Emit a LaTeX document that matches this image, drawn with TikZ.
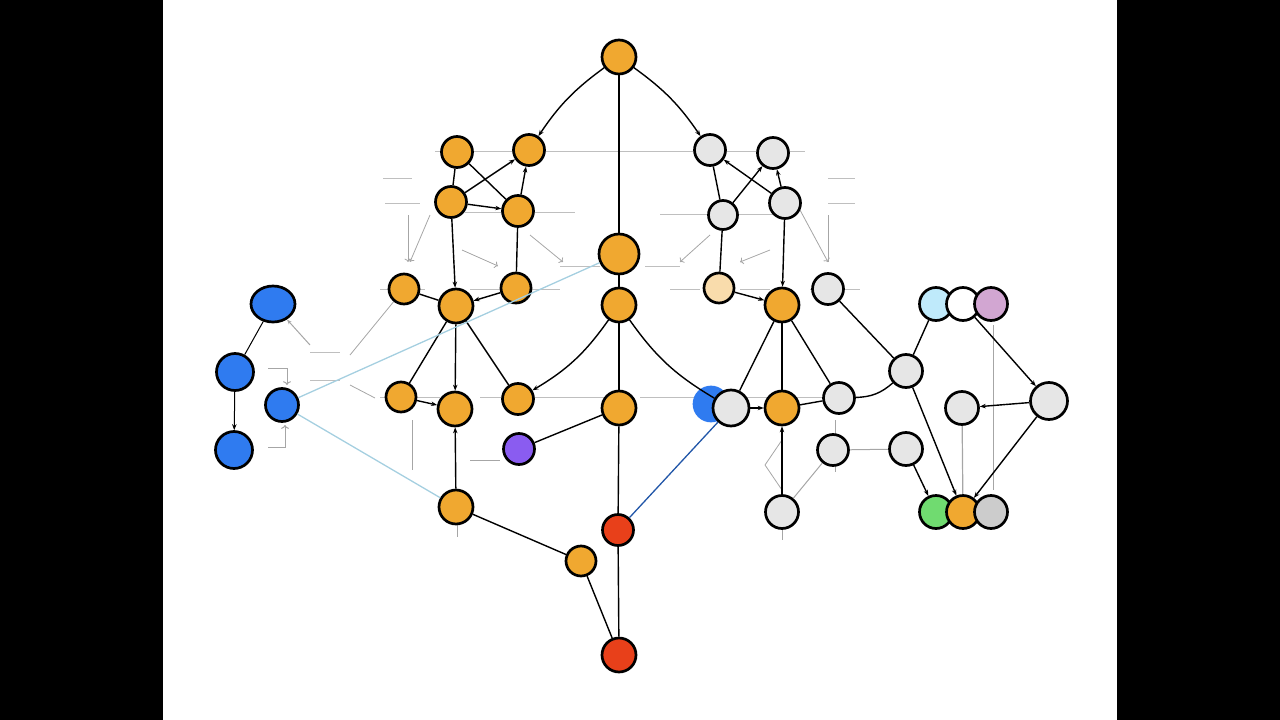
\documentclass[tikz,border=0pt]{standalone}
\usetikzlibrary{arrows.meta,shapes.geometric}
\definecolor{org}{HTML}{F0A830}
\definecolor{gry}{HTML}{E6E6E6}
\definecolor{blu}{HTML}{2F7BF0}
\definecolor{rd}{HTML}{E8401A}
\definecolor{pur}{HTML}{8A5CF0}
\begin{document}
\begin{tikzpicture}[x=1pt,y=-1pt,
 nd/.style={circle,draw=black,line width=2.7pt,inner sep=0pt,minimum size=#1},
 nd/.default=34pt,
 e/.style={line width=1.4pt,black},
 a/.style={e,-{Stealth[length=6pt]}},
 fa/.style={gray!70,line width=0.8pt},
 fd/.style={gray!50,line width=1pt},
 tl/.style={cyan!40!teal!40,line width=1.3pt}]
\useasboundingbox (0,0) rectangle (1280,720);
\fill[black] (0,0) rectangle (163,720);
\fill[black] (1117,0) rectangle (1280,720);
% faint dashes
\foreach \xa/\xb/\yy in {435/805/151, 383/412/178, 385/420/203, 828/855/178, 828/855/203, 465/575/212, 660/785/214, 560/600/266, 645/680/266, 380/425/289, 470/560/289, 670/700/289, 740/770/289, 810/860/289, 310/340/352, 310/340/380, 380/440/397, 480/620/397, 640/860/397}
 \draw[fd] (\xa,\yy) -- (\xb,\yy);
\draw[fa,->] (408,215) -- (408,262);
\draw[fa,->] (430,215) -- (410,262);
\draw[fa,->] (462,250) -- (498,266);
\draw[fa,->] (530,235) -- (563,262);
\draw[fa,->] (710,235) -- (680,262);
\draw[fa,->] (770,250) -- (740,262);
\draw[fa,->] (800,210) -- (828,262);
\draw[fa] (828,215) -- (828,262);
\draw[fa] (350,355) -- (395,300);
\draw[fa] (350,385) -- (375,398);
\draw[fa] (412,420) -- (412,470);
\draw[fa] (470,460) -- (500,460);
\draw[fa] (835,420) -- (835,472);
\draw[fa] (993,325) -- (993,490);
\draw[fa] (765,465) -- (782,440);
\draw[fa] (765,465) -- (782,490);
\draw[fa] (457,525) -- (457,537);
\draw[fa] (782,530) -- (782,540);

% orange nodes
\node[nd,fill=org] (T) at (619,57) {};
\node[nd=31pt,fill=org] (A1) at (457,152) {};
\node[nd=31pt,fill=org] (A2) at (529,150) {};
\node[nd=31pt,fill=org] (A3) at (451,202) {};
\node[nd=31pt,fill=org] (A4) at (518,211) {};
\node[nd=40pt,fill=org] (C1) at (619,254) {};
\node[nd=30pt,fill=org] (L1) at (404,289) {};
\node[nd,fill=org] (M1) at (456,306) {};
\node[nd=30pt,fill=org] (L2) at (516,288) {};
\node[nd,fill=org] (C2) at (619,305) {};
\node[nd=30pt,fill=org] (L3) at (401,397) {};
\node[nd,fill=org] (M2) at (455,409) {};
\node[nd=31pt,fill=org] (L4) at (518,399) {};
\node[nd,fill=org] (C3) at (619,408) {};
\node[nd=31pt,fill=pur] (P) at (519,449) {};
\node[nd,fill=org] (M3) at (456,507) {};
\node[nd=31pt,fill=rd] (R) at (618,530) {};
\node[nd=30pt,fill=org] (O) at (581,561) {};
\node[nd,fill=rd] (R2) at (619,655) {};
% right
\node[nd=31pt,fill=gry] (G1) at (710,150) {};
\node[nd=31pt,fill=gry] (G2) at (773,153) {};
\node[nd=29pt,fill=gry] (G3) at (723,215) {};
\node[nd=31pt,fill=gry] (G4) at (785,203) {};
\node[nd=30pt,fill=org!40] (Y) at (719,288) {};
\node[nd,fill=org] (O2) at (782,305) {};
\node[nd=31pt,fill=gry] (G5) at (828,289) {};
\node[nd,fill=blu,draw=blu] (B) at (711,404) {};
\node[nd=36pt,fill=gry] (G6) at (731,408) {};
\node[nd,fill=org] (O3) at (782,408) {};
\node[nd=31pt,fill=gry] (G7) at (839,398) {};
\node[nd=33pt,fill=gry] (G8) at (906,371) {};
\node[nd=31pt,fill=gry] (G9) at (833,450) {};
\node[nd=33pt,fill=gry] (G10) at (906,449) {};
\node[nd=33pt,fill=gry] (G11) at (782,512) {};
\node[nd=33pt,fill=cyan!25] (K1) at (936,304) {};
\node[nd=33pt,fill=white] (K2) at (963,304) {};
\node[nd=33pt,fill=violet!35] (K3) at (991,304) {};
\node[nd=33pt,fill=gry] (G12) at (962,408) {};
\node[nd=37pt,fill=gry] (G13) at (1049,401) {};
\node[nd=33pt,fill=green!60!gray!70] (H1) at (936,512) {};
\node[nd=33pt,fill=org] (H2) at (963,512) {};
\node[nd=33pt,fill=gray!40] (H3) at (991,512) {};
% left blue
\node[nd=36pt,fill=blu,minimum width=44pt,ellipse] (B1) at (273,304) {};
\node[nd=37pt,fill=blu] (B2) at (235,372) {};
\node[nd=33pt,fill=blu] (B3) at (282,405) {};
\node[nd=37pt,fill=blu] (B4) at (234,450) {};

% edges
\draw[e] (T) -- (C1);
\draw[a] (T) to[bend right=10] (A2);
\draw[a] (T) to[bend left=10] (G1);
\draw[e] (A1) -- (A3);
\draw[e] (A1) -- (A4);
\draw[a] (A3) -- (A2);
\draw[a] (A3) -- (A4);
\draw[a] (A4) -- (A2);
\draw[a] (A3) -- (M1);
\draw[e] (A4) -- (L2);
\draw[a] (L2) -- (M1);
\draw[e] (L1) -- (M1);
\draw[e] (M1) -- (L3);
\draw[a] (M1) -- (M2);
\draw[e] (M1) -- (L4);
\draw[a] (L3) -- (M2);
\draw[a] (M3) -- (M2);
\draw[e] (M3) -- (O);
\draw[e] (O) -- (R2);
\draw[e] (R2) -- (R);
\draw[e] (R) -- (C3);
\draw[e] (C3) -- (C2);
\draw[e] (C2) -- (C1);
\draw[a] (C2) to[bend left=12] (L4);
\draw[e] (C2) to[bend right=12] (G6);
\draw[e] (C3) -- (P);
\draw[e] (G1) -- (G3);
\draw[a] (G3) -- (G2);
\draw[a] (G4) -- (G1);
\draw[a] (G4) -- (G2);
\draw[e] (G3) -- (Y);
\draw[a] (G4) -- (O2);
\draw[a] (Y) -- (O2);
\draw[e] (O2) -- (G6);
\draw[e] (O2) -- (O3);
\draw[e] (O2) -- (G7);
\draw[a] (G6) -- (O3);
\draw[e] (O3) -- (G7);
\draw[e] (G7) to[bend right=20] (G8);
\draw[e] (G5) -- (G8);
\draw[e] (G8) -- (K1);
\draw[a] (G8) -- (H2);
\draw[a] (G11) -- (O3);
\draw[fa,line width=1pt] (G11) -- (G9);
\draw[fa,line width=1pt] (G9) -- (G10);
\draw[a] (G10) -- (H1);
\draw[a] (K2) -- (G13);
\draw[a] (G13) -- (G12);
\draw[a] (G13) -- (H2);
\draw[fa,line width=1.2pt] (G12) -- (H2);
\draw[tl] (B3) -- (C1);
\draw[tl] (B3) -- (M3);
\draw[blu!70!black,line width=1.3pt] (R) -- (G6);
\draw[e,line width=1pt] (B1) -- (B2);
\draw[a,line width=1pt] (B2) -- (B4);
\draw[fa,line width=1pt,-{Stealth[length=5pt]}] (310,345) -- (B1);
\draw[fa,line width=1pt,->] (268,368) -- (287,368) -- (287,385);
\draw[fa,line width=1pt,->] (268,447) -- (285,447) -- (285,425);
\end{tikzpicture}
\end{document}
